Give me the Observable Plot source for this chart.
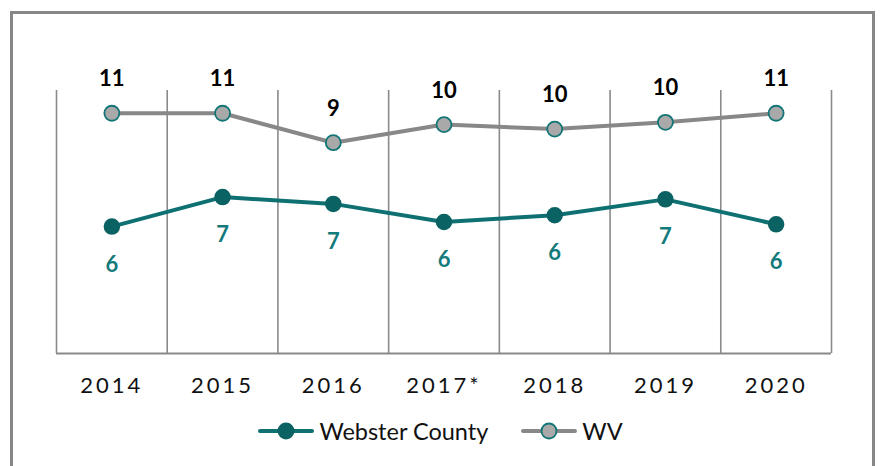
<!DOCTYPE html>
<html>
<head>
<meta charset="utf-8">
<script src="https://cdn.jsdelivr.net/npm/d3@7"></script>
<script src="https://cdn.jsdelivr.net/npm/@observablehq/plot@0.6"></script>
<style>
  html, body { margin: 0; padding: 0; background: #fff; overflow: hidden; }
  #wrap { position: relative; width: 881px; height: 466px; overflow: hidden; font-family: Lato, "Open Sans", sans-serif; }
  #frame { position: absolute; left: 10px; top: 11px; width: 865px; height: 480px; border: 3px solid #878787; box-sizing: border-box; }
  #chart { position: absolute; left: 0; top: 0; }
  #chart svg g[aria-label="x-axis tick label"] text { letter-spacing: 3px; }
  #legend { position: absolute; left: 0; top: 416px; width: 881px; height: 30px; display: flex; justify-content: center; align-items: center; gap: 33px; font-size: 23.5px; color: #111; }
  .item { display: flex; align-items: center; gap: 5px; }
</style>
</head>
<body>
<div id="wrap">
  <div id="frame"></div>
  <div id="chart"></div>
  <div id="legend"></div>
</div>
<script>
const years = ["2014", "2015", "2016", "2017*", "2018", "2019", "2020"];
const webster = [5.6, 6.9, 6.6, 5.8, 6.1, 6.8, 5.7];
const wv = [10.6, 10.6, 9.3, 10.1, 9.9, 10.2, 10.6];
const websterLabels = ["6", "7", "7", "6", "6", "7", "6"];
const wvLabels = ["11", "11", "9", "10", "10", "10", "11"];
const seriesNames = ["Webster County", "WV"];

const tealLine = "#0f7072";
const tealDot = "#0b6263";
const tealText = "#137a7b";
const grayLine = "#888888";
const grayDot = "#a9a9a9";
const grid = "#8a8a8a";

const websterData = years.map((y, i) => ({year: y, value: webster[i], label: websterLabels[i]}));
const wvData = years.map((y, i) => ({year: y, value: wv[i], label: wvLabels[i]}));

const W = 881, H = 400, mL = 56, mR = 50, mT = 81, mB = 47;
const bw = (W - mL - mR) / years.length;

const chart = Plot.plot({
  width: W,
  height: H,
  marginLeft: mL,
  marginRight: mR,
  marginTop: mT,
  marginBottom: mB,
  style: {fontFamily: "Lato, 'Open Sans', sans-serif", background: "transparent", overflow: "visible"},
  x: {type: "band", domain: years, padding: 0, round: false},
  y: {domain: [0, 12], axis: null},
  marks: [
    Plot.ruleX(years, {x: d => d, y1: 0, y2: 12, dx: -bw / 2, stroke: grid, strokeWidth: 1.6, insetBottom: -9}),
    Plot.ruleX([years[years.length - 1]], {x: d => d, y1: 0, y2: 12, dx: bw / 2, stroke: grid, strokeWidth: 1.6, insetBottom: -9}),
    Plot.ruleY([0], {stroke: grid, strokeWidth: 1.8}),
    Plot.axisX({tickSize: 0, tickPadding: 24, fontSize: 22, fill: "#111", label: null}),
    Plot.line(wvData, {x: "year", y: "value", stroke: grayLine, strokeWidth: 4, curve: "linear"}),
    Plot.dot(wvData, {x: "year", y: "value", r: 7.5, fill: grayDot, stroke: "#127575", strokeWidth: 1.8}),
    Plot.line(websterData, {x: "year", y: "value", stroke: tealLine, strokeWidth: 4, curve: "linear"}),
    Plot.dot(websterData, {x: "year", y: "value", r: 7.5, fill: tealDot, stroke: tealDot}),
    Plot.text(wvData, {x: "year", y: "value", text: "label", dy: -34, fontSize: 22, fontWeight: "bold", fill: "#000"}),
    Plot.text(websterData, {x: "year", y: "value", text: "label", dy: 38, fontSize: 22, fontWeight: "bold", fill: tealText})
  ]
});
document.getElementById("chart").appendChild(chart);

const legend = document.getElementById("legend");
const swatches = [
  {name: seriesNames[0], line: tealLine, fill: tealDot, stroke: tealDot},
  {name: seriesNames[1], line: grayLine, fill: grayDot, stroke: "#127575"}
];
for (const s of swatches) {
  const item = document.createElement("div");
  item.className = "item";
  item.innerHTML = `<svg width="56" height="20"><line x1="2" y1="10" x2="54" y2="10" stroke="${s.line}" stroke-width="4" stroke-linecap="round"/><circle cx="28" cy="10" r="7.5" fill="${s.fill}" stroke="${s.stroke}" stroke-width="1.8"/></svg><span>${s.name}</span>`;
  legend.appendChild(item);
}
</script>
</body>
</html>
